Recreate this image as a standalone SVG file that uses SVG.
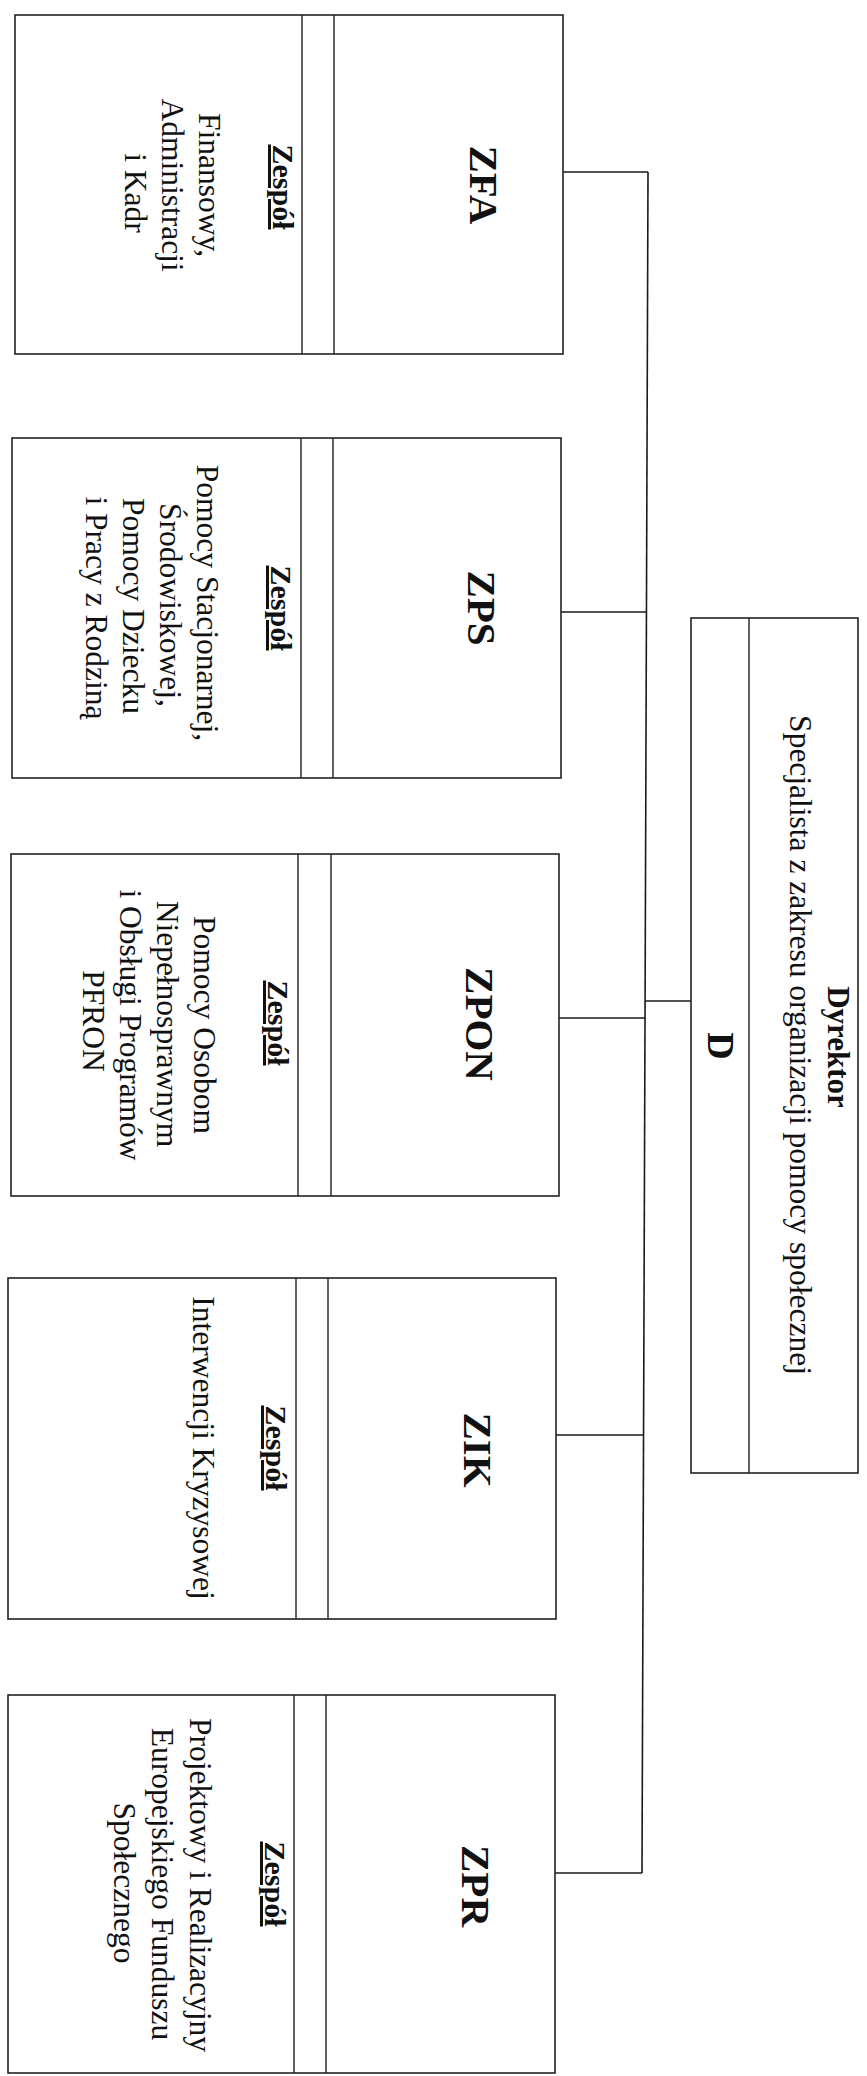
<svg xmlns="http://www.w3.org/2000/svg" width="867" height="2076" viewBox="0 0 867 2076">
<style>
.box{fill:#fff;stroke:#222;stroke-width:1.6}
.ln{stroke:#222;stroke-width:1.4;fill:none}
.con{stroke:#1a1a1a;stroke-width:1.6;fill:none}
text{font-family:"Liberation Serif","Times New Roman",serif;fill:#111;text-anchor:middle}
.abbr{font-size:41px;font-weight:bold}
.zes{font-size:30px;font-weight:bold;text-decoration:underline}
.txt{font-size:31.5px}
.dyr{font-size:31px;font-weight:bold}
.dd{font-size:38px;font-weight:bold}
</style>
<rect width="867" height="2076" fill="#fff"/>
<g id="connectors">
<line class="con" x1="648" y1="172" x2="642" y2="1873"/>
<line class="con" x1="563" y1="172" x2="648" y2="172"/>
<line class="con" x1="561" y1="612" x2="646.4" y2="612"/>
<line class="con" x1="559" y1="1018" x2="645" y2="1018"/>
<line class="con" x1="645.1" y1="1001" x2="691" y2="1001"/>
<line class="con" x1="556" y1="1435" x2="643.5" y2="1435"/>
<line class="con" x1="555" y1="1873" x2="642" y2="1873"/>
</g>
<g id="ZFA">
<rect class="box" x="15" y="15" width="548" height="339"/>
<line class="ln" x1="302" y1="15" x2="302" y2="354"/>
<line class="ln" x1="334" y1="15" x2="334" y2="354"/>
<text class="abbr" transform="translate(470,185) rotate(90)">ZFA</text>
<text class="zes" transform="translate(273,187) rotate(90)">Zespół</text>
<text class="txt" transform="translate(199,185) rotate(90)">Finansowy,</text>
<text class="txt" transform="translate(162,185) rotate(90)">Administracji</text>
<text class="txt" transform="translate(125,193) rotate(90)">i Kadr</text>
</g>
<g id="ZPS">
<rect class="box" x="12" y="438" width="549" height="340"/>
<line class="ln" x1="301" y1="438" x2="301" y2="778"/>
<line class="ln" x1="333" y1="438" x2="333" y2="778"/>
<text class="abbr" transform="translate(468,608) rotate(90)">ZPS</text>
<text class="zes" transform="translate(271,608) rotate(90)">Zespół</text>
<text class="txt" transform="translate(197,603) rotate(90)">Pomocy Stacjonarnej,</text>
<text class="txt" transform="translate(160,605) rotate(90)">Środowiskowej,</text>
<text class="txt" transform="translate(123,606) rotate(90)">Pomocy Dziecku</text>
<text class="txt" transform="translate(86,608) rotate(90)">i Pracy z Rodziną</text>
</g>
<g id="ZPON">
<rect class="box" x="11" y="854" width="548" height="342"/>
<line class="ln" x1="298" y1="854" x2="298" y2="1196"/>
<line class="ln" x1="331" y1="854" x2="331" y2="1196"/>
<text class="abbr" transform="translate(466,1024) rotate(90)">ZPON</text>
<text class="zes" transform="translate(268,1023) rotate(90)">Zespół</text>
<text class="txt" transform="translate(194,1025) rotate(90)">Pomocy Osobom</text>
<text class="txt" transform="translate(157,1024) rotate(90)">Niepełnosprawnym</text>
<text class="txt" transform="translate(120,1025) rotate(90)">i Obsługi Programów</text>
<text class="txt" transform="translate(83,1021) rotate(90)">PFRON</text>
</g>
<g id="D">
<rect class="box" x="691" y="618" width="167" height="855"/>
<line class="ln" x1="749" y1="618" x2="749" y2="1473"/>
<text class="dd" transform="translate(708,1046) rotate(90)">D</text>
<text class="dyr" transform="translate(828,1047) rotate(90)">Dyrektor</text>
<text class="txt" transform="translate(790,1045) rotate(90)">Specjalista z zakresu organizacji pomocy społecznej</text>
</g>
<g id="ZIK">
<rect class="box" x="8" y="1278" width="548" height="341"/>
<line class="ln" x1="296" y1="1278" x2="296" y2="1619"/>
<line class="ln" x1="328" y1="1278" x2="328" y2="1619"/>
<text class="abbr" transform="translate(464,1450) rotate(90)">ZIK</text>
<text class="zes" transform="translate(266,1448) rotate(90)">Zespół</text>
<text class="txt" transform="translate(193,1448) rotate(90)">Interwencji Kryzysowej</text>
</g>
<g id="ZPR">
<rect class="box" x="8" y="1695" width="547" height="378"/>
<line class="ln" x1="294" y1="1695" x2="294" y2="2073"/>
<line class="ln" x1="326" y1="1695" x2="326" y2="2073"/>
<text class="abbr" transform="translate(462,1886) rotate(90)">ZPR</text>
<text class="zes" transform="translate(265,1884) rotate(90)">Zespół</text>
<text class="txt" transform="translate(190,1885) rotate(90)">Projektowy i Realizacyjny</text>
<text class="txt" transform="translate(152,1884) rotate(90)">Europejskiego Funduszu</text>
<text class="txt" transform="translate(114,1883) rotate(90)">Społecznego</text>
</g>
</svg>
